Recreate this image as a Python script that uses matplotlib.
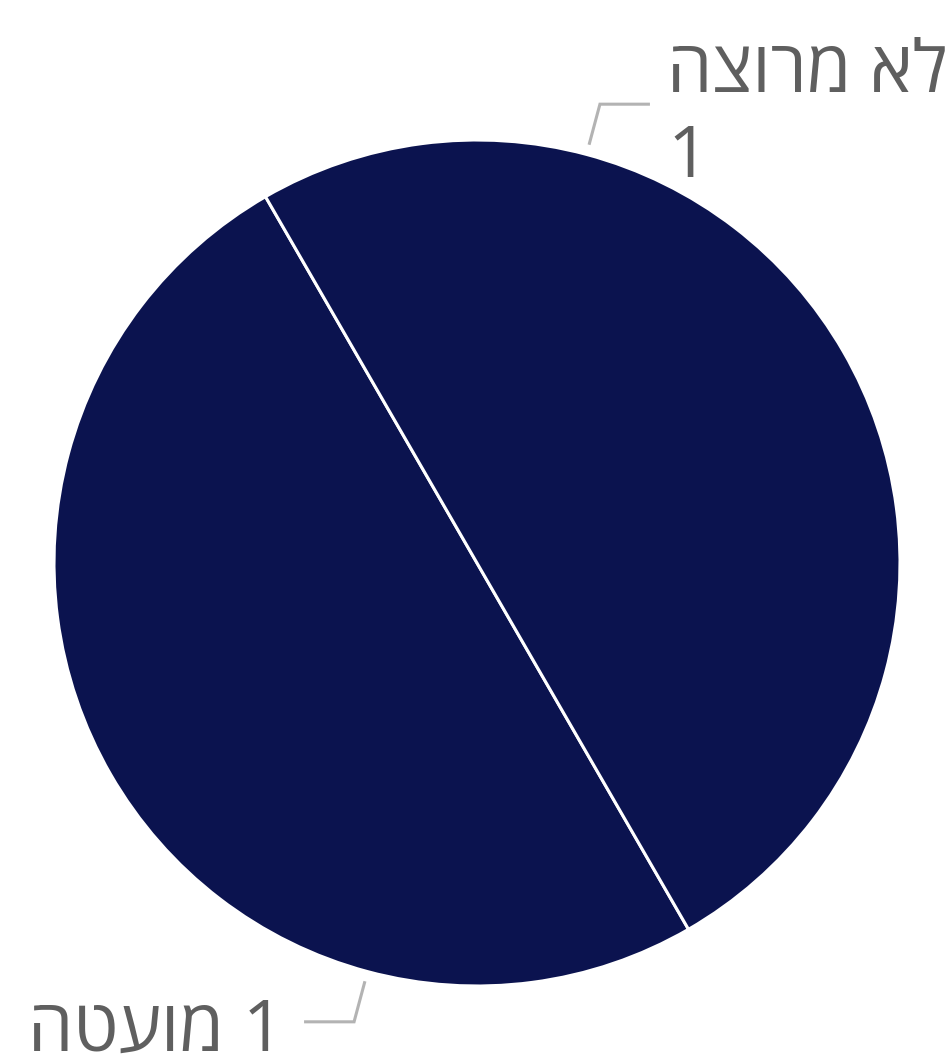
import numpy as np
import matplotlib
matplotlib.use("Agg")
import matplotlib.pyplot as plt

# Data (labels in visual left-to-right order, since matplotlib has no bidi)
categories = ["מועטה", "לא מרוצה"]
categories_visual = ["הטעומ", "הצורמ אל"]
values = [1, 1]

W, H = 947, 1057
fig = plt.figure(figsize=(W / 100, H / 100), dpi=100)
ax = fig.add_axes([0, 0, 1, 1])
ax.axis("off")

cx, cy, R = 477, H - 563, 423
color = "#0b134f"
wedges, _ = ax.pie(values, center=(cx, cy), radius=R, startangle=120,
                   counterclock=True, colors=[color] * len(values),
                   wedgeprops=dict(edgecolor="white", linewidth=2.2))
ax.set_xlim(0, W)
ax.set_ylim(0, H)
ax.set_aspect("equal")

font = ["Open Sans", "DejaVu Sans"]
txt_color = "#5f5f5f"
line_color = "#b3b3b3"
fs = 52

for w, lab, val in zip(wedges, categories_visual, values):
    mid = 0.5 * (w.theta1 + w.theta2) + 45
    a = np.deg2rad(mid)
    x1, y1 = cx + (R + 10) * np.cos(a), cy + (R + 10) * np.sin(a)
    x2, y2 = cx + (R + 52) * np.cos(a), cy + (R + 52) * np.sin(a)
    right = np.cos(a) >= 0
    x3 = x2 + (50 if right else -50)
    ax.plot([x1, x2, x3], [y1, y2, y2], color=line_color, lw=2.2,
            solid_capstyle="butt", solid_joinstyle="miter", clip_on=False)
    if right:
        ax.text(x3 + 17, y2 - 12, f"{lab}\n{val}", ha="left", va="center",
                fontsize=fs, color=txt_color, family=font, linespacing=1.25,
                clip_on=False)
    else:
        ax.text(x3 - 20, y2 - 10, f"{lab} {val}", ha="right", va="center",
                fontsize=fs, color=txt_color, family=font, clip_on=False)

fig.savefig("out.png", dpi=100)
